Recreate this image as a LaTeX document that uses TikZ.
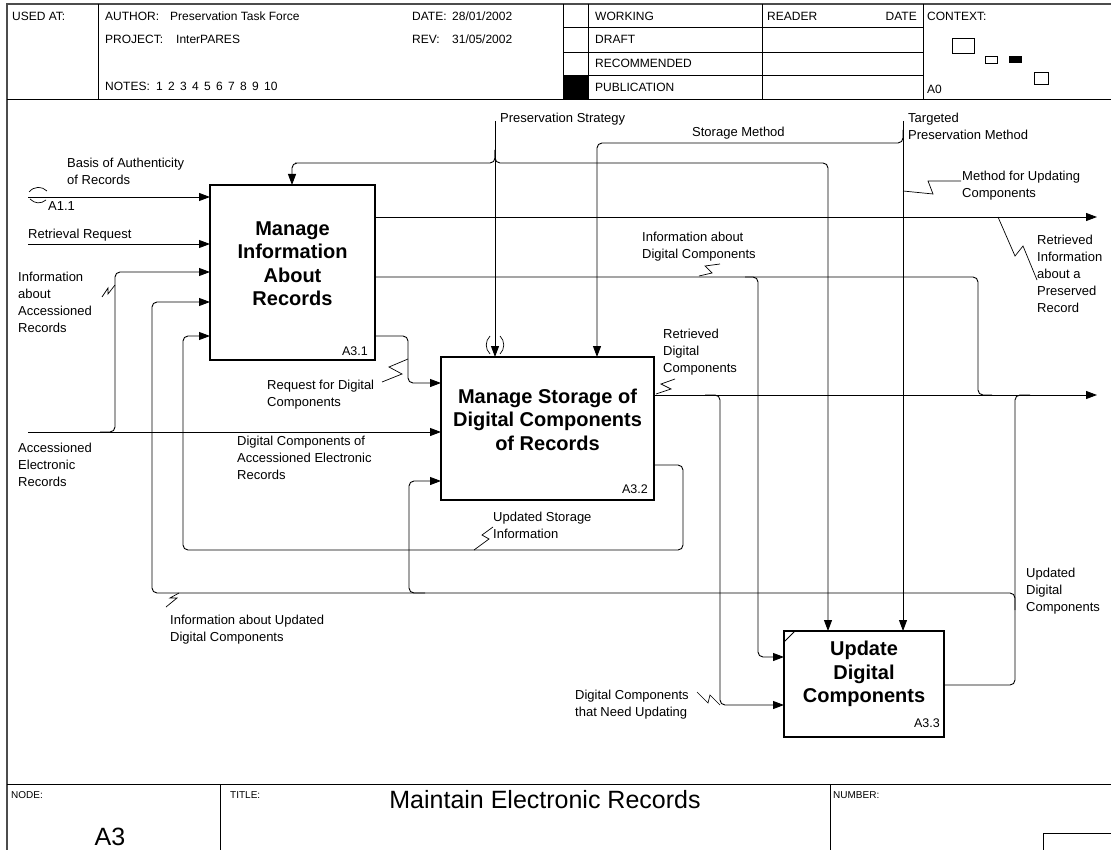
\documentclass[tikz,border=0pt]{standalone}
\usepackage{fontspec}
\setmainfont{Liberation Sans}
\usetikzlibrary{arrows.meta,positioning,calc}

\begin{document}
\begin{tikzpicture}[x=1pt, y=-1pt,
    frame/.style={line width=1.2pt, draw=black!70},
    rule/.style={line width=0.8pt},
    hdr/.style={anchor=base west, inner sep=0, font=\fontsize{12}{15}\selectfont},
    ftr/.style={anchor=base west, inner sep=0, font=\fontsize{10}{12}\selectfont},
    actbox/.style={draw, line width=1.8pt, inner sep=0, outer sep=0},
    acttitle/.style={align=center, inner sep=0, font=\fontsize{20}{23.5}\selectfont\bfseries},
    actid/.style={anchor=base east, inner sep=0, font=\fontsize{12.5}{15}\selectfont},
    lbl/.style={anchor=base west, align=left, inner sep=0, font=\fontsize{13}{17}\selectfont},
    wire/.style={line width=0.9pt, rounded corners=5pt},
    arrow/.style={wire, -{Triangle[length=11pt, width=8pt]}},
    squig/.style={line width=0.7pt}
]
\useasboundingbox (0,0) rectangle (1111,850);

% Header frame
\draw[frame] (7,850) -- (7,4) -- (1111,4);
\draw[rule] (7,99) -- (1111,99);
\draw[rule] (98,4) -- (98,99);
\draw[rule] (563,4) -- (563,99);
\draw[rule] (588,4) -- (588,99);
\draw[rule] (762,4) -- (762,99);
\draw[rule] (923,4) -- (923,99);
\draw[rule] (563,27) -- (923,27);
\draw[rule] (563,52) -- (923,52);
\draw[rule] (563,75) -- (923,75);
\fill (563,75) rectangle (588,99);

% Header texts
\node[hdr] (usedat) at (12,20.5) {USED AT:};
\node[hdr] (author) at (105,20.5) {AUTHOR:};
\node[hdr] (authorv) at (170,20.5) {Preservation Task Force};
\node[hdr] (project) at (105,43.5) {PROJECT:};
\node[hdr] (projectv) at (176,43.5) {InterPARES};
\node[hdr] (notes) at (105,90.5) {NOTES:};
\node[hdr] (notesv) at (156,90.5) {1\, 2\, 3\, 4\, 5\, 6\, 7\, 8\, 9\, 10};
\node[hdr] (date) at (412,20.5) {DATE:};
\node[hdr] (datev) at (452,20.5) {28/01/2002};
\node[hdr] (rev) at (412,43.5) {REV:};
\node[hdr] (revv) at (452,43.5) {31/05/2002};
\node[hdr] (working) at (595,20.5) {WORKING};
\node[hdr] (draft) at (595,43.5) {DRAFT};
\node[hdr] (recom) at (595,67.5) {RECOMMENDED};
\node[hdr] (public) at (595,91.5) {PUBLICATION};
\node[hdr] (reader) at (767,20.5) {READER};
\node[hdr, anchor=base east] (rdate) at (917,20.5) {DATE};
\node[hdr] (context) at (927,20.5) {CONTEXT:};
\node[hdr] (ctxnode) at (927,93.5) {A0};

% Context thumbnails
\draw[line width=0.8pt] (952,38) rectangle (974,53);
\draw[line width=0.8pt] (985,56) rectangle (997,63);
\fill (1009,56) rectangle (1022,63);
\draw[line width=0.8pt] (1034,72) rectangle (1048,84);

% Footer
\draw[rule] (7,784) -- (1111,784);
\draw[rule] (220,784) -- (220,850);
\draw[rule] (830,784) -- (830,850);
\draw[rule] (1043,850) -- (1043,833) -- (1111,833);
\node[ftr] (nodelbl) at (11,798) {NODE:};
\node[ftr] (titlelbl) at (230,798) {TITLE:};
\node[ftr] (numberlbl) at (833,798) {NUMBER:};
\node[inner sep=0, font=\fontsize{25}{25}\selectfont] (nodeval) at (110,837) {A3};
\node[inner sep=0, font=\fontsize{25}{25}\selectfont] (titleval) at (545,800) {Maintain Electronic Records};

% Activity boxes
\node[actbox, minimum width=165pt, minimum height=175pt] (mgi) at (292.5,272.5) {};
\node[actbox, minimum width=213pt, minimum height=143pt] (msd) at (547.5,428.5) {};
\node[actbox, minimum width=160pt, minimum height=106pt] (udc) at (864,684) {};
\node[acttitle] (mgi-title) at (292.5,263.5) {Manage\\Information\\About\\Records};
\node[acttitle] (msd-title) at (547.5,419.5) {Manage Storage of\\Digital Components\\of Records};
\node[acttitle] (udc-title) at (864,674) {Update\\Digital\\Components};
\node[actid] (mgi-id) at (368,355.5) {A3.1};
\node[actid] (msd-id) at (648,493.5) {A3.2};
\node[actid] (udc-id) at (940,727.5) {A3.3};
\draw[line width=0.9pt] ($(udc.north west)+(0,11)$) -- ($(udc.north west)+(11,0)$);

% Ports
\coordinate (mgi-i1) at ($(mgi.north west)+(0,12)$);
\coordinate (mgi-i2) at ($(mgi.north west)+(0,59)$);
\coordinate (mgi-i3) at ($(mgi.north west)+(0,87)$);
\coordinate (mgi-i4) at ($(mgi.north west)+(0,117)$);
\coordinate (mgi-i5) at ($(mgi.north west)+(0,151)$);
\coordinate (mgi-c1) at ($(mgi.north west)+(82,0)$);
\coordinate (mgi-o1) at ($(mgi.north east)+(0,32)$);
\coordinate (mgi-o2) at ($(mgi.north east)+(0,92)$);
\coordinate (mgi-o3) at ($(mgi.north east)+(0,151)$);
\coordinate (msd-i1) at ($(msd.north west)+(0,26)$);
\coordinate (msd-i2) at ($(msd.north west)+(0,75)$);
\coordinate (msd-i3) at ($(msd.north west)+(0,124)$);
\coordinate (msd-c1) at ($(msd.north west)+(54,0)$);
\coordinate (msd-c2) at ($(msd.north west)+(156,0)$);
\coordinate (msd-o1) at ($(msd.north east)+(0,38)$);
\coordinate (msd-o2) at ($(msd.north east)+(0,108)$);
\coordinate (udc-i1) at ($(udc.north west)+(0,26)$);
\coordinate (udc-i2) at ($(udc.north west)+(0,74)$);
\coordinate (udc-c1) at ($(udc.north west)+(44,0)$);
\coordinate (udc-c2) at ($(udc.north west)+(119,0)$);
\coordinate (udc-o1) at ($(udc.north east)+(0,54)$);

% Free ends
\coordinate (basis) at (28,197);
\coordinate (retr) at (28,244);
\coordinate (accel) at (28,432);
\coordinate (strat) at (495,121);
\coordinate (targ) at (903,121);
\coordinate (ri-end) at (1097,217);
\coordinate (rd-end) at (1097,395);

% Inputs
\draw[arrow] (basis) -- (mgi-i1);
\draw[arrow] (retr) -- (mgi-i2);
\draw[arrow] (accel) -- (msd-i2);
\draw[arrow] (100,432) -| (115,300) |- (mgi-i3);

% Controls
\draw[arrow] (strat) -- (msd-c1);
\draw[arrow] (495,150) |- (300,163) -| (mgi-c1);
\draw[arrow] (495,150) |- (700,163) -| (udc-c1);
\draw[arrow] (targ) -- (udc-c2);
\draw[arrow] (903,130) |- (700,143) -| (msd-c2);

% Outputs of A3.1
\draw[arrow] (mgi-o1) -- (ri-end);
\draw[wire] (mgi-o2) -| (978,350) |- (992,395);
\draw[arrow] (745,277) -| (758,600) |- (udc-i1);
\draw[arrow] (mgi-o3) -| (408,360) |- (msd-i1);

% Outputs of A3.2
\draw[arrow] (msd-o1) -- (rd-end);
\draw[arrow] (705,395) -| (720,600) |- (udc-i2);
\draw[arrow] (msd-o2) -| (683,520) |- (300,550) -| (183,400) |- (mgi-i5);

% Outputs of A3.3
\draw[wire] (udc-o1) -| (1015,500) |- (1030,395);
\draw[arrow] (1015,610) |- (900,593) -| (152,400) |- (mgi-i4);
\draw[arrow] (425,593) -| (409,540) |- (msd-i3);

% Tunnels
\draw[squig] (29,192) .. controls (34,186) and (42,186) .. (47,191);
\draw[squig] (30,199) .. controls (35,204) and (41,204) .. (46,200);
\draw[squig] (490,336) .. controls (485,341) and (485,349) .. (490,354);
\draw[squig] (500,336) .. controls (505,341) and (505,349) .. (500,354);

% Squiggles
\draw[squig] (998,217) -- (1015,256) -- (1023,246) -- (1037,280);
\draw[squig] (903,191) -- (933,194) -- (928,181) -- (961,181);
\draw[squig] (699,276) -- (712,273) -- (705,266) -- (720,264);
\draw[squig] (656,394) -- (671,389) -- (661,384) -- (675,379);
\draw[squig] (382,382) -- (402,374) -- (389,367) -- (408,359);
\draw[squig] (102,297) -- (108,288) -- (108,294) -- (115,285);
\draw[squig] (166,607) -- (177,598) -- (170,598) -- (179,593);
\draw[squig] (474,550) -- (489,539) -- (482,535) -- (493,527);
\draw[squig] (697,692) -- (708,703) -- (710,695) -- (720,705);

% Labels (base = last line)
\node[lbl] (basis-lbl) at (67,184.5) {Basis of Authenticity\\of Records};
\node[lbl] (a11-lbl) at (48,211) {A1.1};
\node[lbl] (retr-lbl) at (28,238.5) {Retrieval Request};
\node[lbl] (accinfo-lbl) at (18,332.5) {Information\\about\\Accessioned\\Records};
\node[lbl] (accel-lbl) at (18,486.5) {Accessioned\\Electronic\\Records};
\node[lbl] (req-lbl) at (267,406.5) {Request for Digital\\Components};
\node[lbl] (dcae-lbl) at (237,479.5) {Digital Components of\\Accessioned Electronic\\Records};
\node[lbl] (strat-lbl) at (500,122.5) {Preservation Strategy};
\node[lbl] (stor-lbl) at (692,136.5) {Storage Method};
\node[lbl] (targ-lbl) at (908,139.5) {Targeted\\Preservation Method};
\node[lbl] (mfu-lbl) at (962,197.5) {Method for Updating\\Components};
\node[lbl] (ri-lbl) at (1037,312.5) {Retrieved\\Information\\about a\\Preserved\\Record};
\node[lbl] (idc-lbl) at (642,258.5) {Information about\\Digital Components};
\node[lbl] (rdc-lbl) at (663,372.5) {Retrieved\\Digital\\Components};
\node[lbl] (usi-lbl) at (493,538.5) {Updated Storage\\Information};
\node[lbl] (iudc-lbl) at (170,641.5) {Information about Updated\\Digital Components};
\node[lbl] (dcnu-lbl) at (575,716.5) {Digital Components\\that Need Updating};
\node[lbl] (udco-lbl) at (1026,611.5) {Updated\\Digital\\Components};

\end{tikzpicture}
\end{document}
